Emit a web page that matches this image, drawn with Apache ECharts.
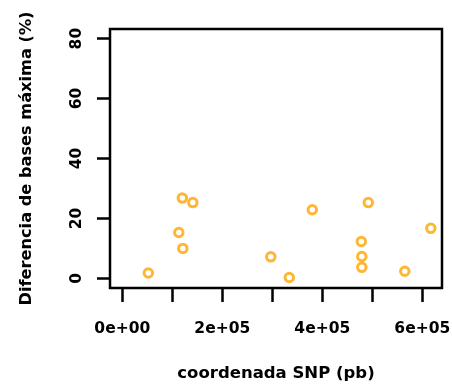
<!DOCTYPE html>
<html><head><meta charset="utf-8">
<script src="https://cdn.jsdelivr.net/npm/echarts@6/dist/echarts.min.js"></script>
<style>html,body{margin:0;padding:0;background:#fff}#c{width:452px;height:384px}</style>
</head><body><div id="c"></div>
<script>
const snpCoord = [52000, 120000, 141000, 113000, 121000, 297000, 334000, 380000, 492000, 478000, 479000, 479000, 565000, 617000];
const maxDiff  = [1.8, 26.8, 25.3, 15.3, 10.0, 7.2, 0.3, 22.9, 25.3, 12.3, 7.3, 3.7, 2.4, 16.7];
const xTicks = [0, 100000, 200000, 300000, 400000, 500000, 600000];
const xLabels = [0, 200000, 400000, 600000];
const yTicks = [0, 20, 40, 60, 80];
const xTitle = 'coordenada SNP (pb)';
const yTitle = 'Diferencia de bases máxima (%)';

function sci(v){
  if (v === 0) return '0e+00';
  const e = Math.floor(Math.log10(Math.abs(v)));
  const m = Math.round(v / Math.pow(10, e));
  return m + 'e+' + String(e).padStart(2, '0');
}
const font = 'DejaVu Sans';
const chart = echarts.init(document.getElementById('c'), null, {renderer:'canvas'});
chart.setOption({
  animation:false,
  grid:{left:110, right:10, top:29, bottom:96, show:true, borderColor:'#000', borderWidth:2.5, backgroundColor:'#fff',
        containLabel:false, outerBoundsMode:'none'},
  xAxis:{type:'value', min:-24600, max:639400,
    axisLine:{show:false, onZero:false}, splitLine:{show:false},
    axisTick:{show:true, inside:false, length:14, lineStyle:{color:'#000', width:2.5}, customValues:xTicks},
    axisLabel:{customValues:xLabels, formatter:sci, margin:33, color:'#000', fontFamily:font, fontWeight:'bold', fontSize:15.5},
    name:xTitle, nameLocation:'middle', nameGap:77, nameTextStyle:{color:'#000', fontFamily:font, fontWeight:'bold', fontSize:16.5}
  },
  yAxis:{type:'value', min:-3.2, max:83.2,
    axisLine:{show:false, onZero:false}, splitLine:{show:false},
    axisTick:{show:true, inside:false, length:13, lineStyle:{color:'#000', width:2.5}, customValues:yTicks},
    axisLabel:{customValues:yTicks, rotate:90, margin:25, color:'#000', fontFamily:font, fontWeight:'bold', fontSize:15.5},
    name:yTitle, nameLocation:'middle', nameGap:75, nameTextStyle:{color:'#000', fontFamily:font, fontWeight:'bold', fontSize:16.2}
  },
  series:[{type:'scatter', data:snpCoord.map((x,i)=>[x, maxDiff[i]]), symbol:'circle', symbolSize:8.5,
    itemStyle:{color:'#fff', borderColor:'#FFA500', borderWidth:3}}]
});
</script></body></html>
